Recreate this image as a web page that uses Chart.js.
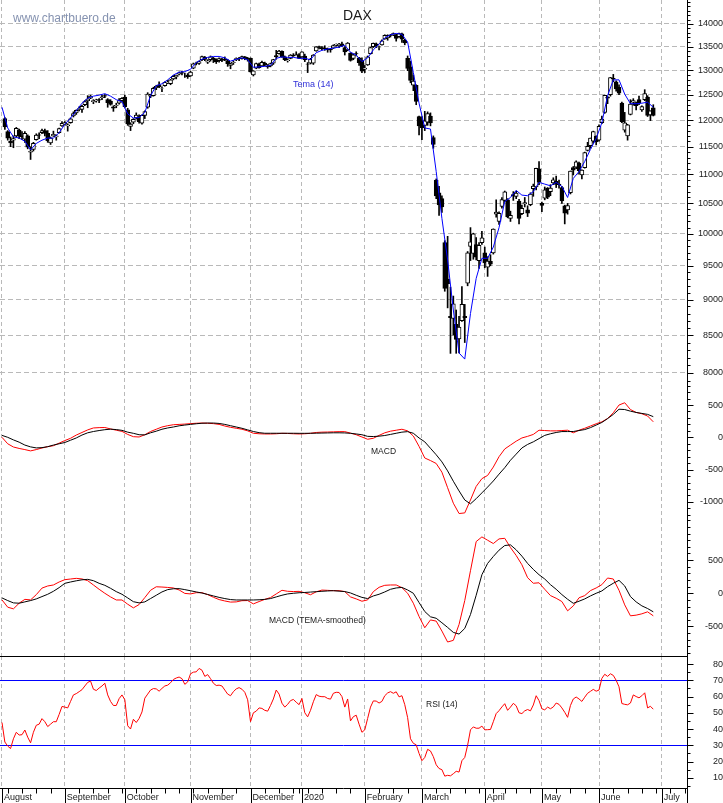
<!DOCTYPE html>
<html>
<head>
<meta charset="utf-8">
<title>DAX</title>
<script src="https://cdn.jsdelivr.net/npm/chart.js@4.4.1/dist/chart.umd.min.js"></script>
<style>
  body { margin: 0; background: #fff; }
  #wrap { position: relative; width: 723px; height: 803px; overflow: hidden; background: #fff;
          font-family: "Liberation Sans", Arial, sans-serif; }
  #wrap canvas { position: absolute; left: 0; }
  .lbl { position: absolute; white-space: nowrap; line-height: 1; }
</style>
</head>
<body>
<div id="wrap">
  <canvas id="cPrice" width="723" height="385" style="top:0"></canvas>
  <canvas id="cMacd" width="723" height="135" style="top:385px"></canvas>
  <canvas id="cTema" width="723" height="136" style="top:520px"></canvas>
  <canvas id="cRsi" width="723" height="147" style="top:656px"></canvas>
  <div class="lbl" style="left:13px;top:12px;font-size:12px;color:#8592b0">www.chartbuero.de</div>
  <div class="lbl" style="left:343px;top:8px;font-size:14px;color:#1a1a1a">DAX</div>
  <div class="lbl" style="left:293px;top:80px;font-size:9px;color:#3030d8">Tema (14)</div>
  <div class="lbl" style="left:371px;top:447px;font-size:8.5px;color:#1a1a1a">MACD</div>
  <div class="lbl" style="left:269px;top:616px;font-size:8.5px;color:#1a1a1a">MACD (TEMA-smoothed)</div>
  <div class="lbl" style="left:426px;top:700px;font-size:8.5px;color:#1a1a1a">RSI (14)</div>
</div>
<script>
// x = trading session number, 0 = 1 Aug 2019
const X_MIN = -0.7, X_MAX = 239.8;
const monthIdx = [0, 22, 43, 66, 87, 105, 127, 147, 169, 189, 209, 231];
const monthLabels = ['August', 'September', 'October', 'November', 'December', '2020',
                     'February', 'March', 'April', 'May', 'June', 'July'];
const weekIdx = [2, 7, 12, 17, 22, 27, 32, 37, 42, 47, 52, 57, 62, 67, 72, 77, 82, 87, 92, 97, 102, 104,
                 107, 112, 117, 122, 127, 132, 137, 142, 147, 152, 157, 162, 167, 172, 176, 180, 185,
                 189, 194, 199, 204, 209, 214, 219, 224, 229, 234, 239];

// DAX daily bars
const priceOpen = [
  null, 12030, 11780, 11600, 11620, 11700, 11810, 11700, 11640, 11700,
  11400, 11450, 11630, 11720, 11760, 11800, 11750, 11570, 11700, 11680,
  11760, 11890, 11920, 11890, 11950, 12080, 12140, 12210, 12210, 12300,
  12380, 12430, 12360, 12380, 12400, 12440, 12480, 12400, 12370, 12260,
  12280, 12330, 12380, 12450, 12200, 11880, 11960, 12040, 12070, 11940,
  12090, 12250, 12470, 12480, 12640, 12700, 12630, 12680, 12740, 12720,
  12820, 12860, 12920, 12950, 12910, 12900, 12880, 13040, 13150, 13140,
  13220, 13270, 13170, 13220, 13250, 13230, 13200, 13240, 13230, 13200,
  13100, 13160, 13220, 13250, 13250, 13280, 13250, 13250, 12900, 13040,
  13130, 13090, 13150, 13080, 13090, 13150, 13310, 13350, 13400, 13280,
  13200, 13250, 13320, 13340, 13330, 13280, 13300, 13130, 13150, 13150,
  13410, 13500, 13480, 13470, 13440, 13440, 13470, 13540, 13520, 13560,
  13480, 13430, 13360, 13250, 13350, 13260, 13200, 13020, 13110, 13350,
  13500, 13560, 13490, 13540, 13670, 13690, 13750, 13760, 13760, 13720,
  13780, 13640, 13250, 13070, 12690, 12690, 12070, 11990, 11900, 11960,
  12080, 11670, 10900, 10680, 10580, 9860, 9300, 8760, 8730, 8650,
  8450, 8700, 8760, 9240, 9800, 9690, 9830, 9580, 9860, 9700,
  9480, 9570, 9700, 10320, 10200, 10450, 10550, 10560, 10250, 10650,
  10620, 10540, 10330, 10490, 10390, 10480, 10750, 10780, 11100, 10500,
  10590, 10760, 10700, 10850, 10880, 10830, 10770, 10460, 10390, 10680,
  11120, 11130, 11200, 10990, 11120, 11430, 11520, 11600, 11690, 11620,
  11950, 12150, 12450, 12500, 12830, 12760, 12650, 12330, 11810, 11700,
  12110, 12350, 12340, 12400, 12200, 12400, 12450, 12100, 12240
];
const priceHigh = [
  null, 12050, 11800, 11680, 11700, 11860, 11830, 11780, 11780, 11720,
  11500, 11580, 11740, 11760, 11830, 11830, 11800, 11680, 11790, 11720,
  11850, 11970, 11970, 11930, 12040, 12160, 12200, 12260, 12290, 12380,
  12480, 12490, 12400, 12410, 12420, 12490, 12500, 12420, 12400, 12280,
  12330, 12420, 12440, 12490, 12230, 11950, 12030, 12140, 12100, 12100,
  12180, 12540, 12510, 12650, 12690, 12760, 12660, 12760, 12790, 12810,
  12890, 12900, 12960, 12980, 12940, 12930, 12980, 13150, 13170, 13190,
  13300, 13290, 13220, 13300, 13270, 13240, 13260, 13250, 13280, 13230,
  13150, 13200, 13260, 13270, 13300, 13290, 13270, 13260, 12990, 13150,
  13150, 13190, 13170, 13120, 13150, 13230, 13420, 13420, 13410, 13300,
  13240, 13330, 13350, 13390, 13350, 13390, 13340, 13160, 13250, 13330,
  13500, 13510, 13500, 13520, 13470, 13450, 13540, 13560, 13570, 13600,
  13500, 13590, 13370, 13340, 13390, 13270, 13260, 13100, 13300, 13490,
  13580, 13580, 13510, 13650, 13760, 13760, 13770, 13800, 13770, 13800,
  13800, 13660, 13300, 13190, 12900, 12700, 12080, 12070, 12170, 12160,
  12140, 11700, 10920, 10790, 10630, 9890, 9960, 9180, 9050, 8850,
  8760, 9190, 8930, 9720, 10100, 10010, 9940, 9860, 10040, 9790,
  9640, 9670, 10080, 10560, 10360, 10600, 10710, 10580, 10370, 10700,
  10710, 10570, 10470, 10600, 10460, 10680, 10830, 11110, 11230, 10520,
  10780, 10770, 10820, 10940, 10970, 10900, 10790, 10470, 10500, 11060,
  11140, 11240, 11220, 11080, 11400, 11580, 11660, 11790, 11700, 11910,
  12080, 12490, 12470, 12850, 12913, 12780, 12700, 12350, 12150, 11920,
  12400, 12420, 12350, 12470, 12280, 12600, 12480, 12180, 12300
];
const priceLow = [
  null, 11820, 11620, 11500, 11480, 11680, 11650, 11630, 11580, 11460,
  11266, 11420, 11620, 11650, 11740, 11700, 11580, 11540, 11690, 11620,
  11750, 11880, 11910, 11790, 11940, 12060, 12110, 12180, 12150, 12280,
  12240, 12420, 12320, 12350, 12340, 12400, 12440, 12250, 12290, 12170,
  12240, 12310, 12350, 12240, 11900, 11800, 11930, 12020, 11940, 11920,
  12030, 12230, 12440, 12470, 12600, 12640, 12560, 12670, 12720, 12700,
  12800, 12820, 12900, 12900, 12850, 12830, 12870, 13030, 13110, 13120,
  13200, 13200, 13140, 13190, 13160, 13140, 13170, 13180, 13200, 13080,
  13030, 13120, 13200, 13200, 13230, 13220, 13190, 12960, 12880, 13030,
  13040, 13080, 13090, 13040, 13070, 13120, 13230, 13340, 13270, 13200,
  13170, 13240, 13290, 13320, 13240, 13270, 13180, 12950, 13130, 13120,
  13400, 13450, 13430, 13420, 13380, 13380, 13460, 13510, 13480, 13500,
  13320, 13410, 13190, 13220, 13300, 13100, 12950, 12950, 13100, 13340,
  13480, 13480, 13430, 13530, 13660, 13640, 13710, 13740, 13620, 13700,
  13590, 13540, 12990, 12740, 12580, 12300, 11720, 11630, 11800, 11900,
  11890, 11470, 10580, 10300, 10350, 9120, 8880, 8255, 8500, 8256,
  8260, 8690, 8400, 9200, 9580, 9600, 9590, 9460, 9830, 9470,
  9340, 9500, 9680, 10270, 10150, 10420, 10530, 10260, 10200, 10550,
  10580, 10160, 10310, 10440, 10280, 10460, 10620, 10730, 10820, 10360,
  10560, 10580, 10630, 10820, 10770, 10760, 10500, 10160, 10320, 10660,
  10990, 11100, 11010, 10920, 11110, 11420, 11470, 11570, 11530, 11600,
  11930, 12130, 12320, 12470, 12760, 12570, 12500, 11950, 11770, 11620,
  12100, 12290, 12200, 12300, 12170, 12380, 12070, 11990, 12080
];
const priceClose = [
  null, 11872, 11658, 11567, 11650, 11845, 11694, 11679, 11750, 11492,
  11412, 11563, 11715, 11712, 11802, 11747, 11612, 11658, 11731, 11701,
  11838, 11939, 11953, 11910, 12025, 12126, 12192, 12226, 12269, 12360,
  12410, 12469, 12381, 12390, 12389, 12457, 12468, 12342, 12307, 12234,
  12288, 12381, 12428, 12263, 11925, 11925, 12013, 12097, 11970, 12094,
  12164, 12511, 12486, 12630, 12670, 12654, 12633, 12748, 12755, 12799,
  12873, 12895, 12941, 12939, 12910, 12867, 12961, 13136, 13148, 13179,
  13289, 13228, 13198, 13283, 13230, 13180, 13242, 13207, 13221, 13138,
  13137, 13164, 13246, 13236, 13287, 13245, 13236, 12965, 12989, 13140,
  13055, 13166, 13106, 13071, 13141, 13221, 13282, 13407, 13287, 13222,
  13212, 13319, 13300, 13337, 13249, 13386, 13219, 13127, 13227, 13320,
  13495, 13483, 13452, 13456, 13432, 13429, 13526, 13549, 13556, 13515,
  13389, 13577, 13205, 13324, 13345, 13158, 12982, 13046, 13282, 13479,
  13575, 13514, 13494, 13627, 13750, 13745, 13745, 13784, 13681, 13789,
  13665, 13579, 13035, 12790, 12775, 12367, 11890, 11857, 11986, 12128,
  11945, 11542, 10625, 10475, 10439, 9162, 9232, 8742, 8939, 8442,
  8610, 8929, 8742, 9700, 9874, 10001, 9633, 9816, 9936, 9544,
  9571, 9525, 10075, 10356, 10333, 10565, 10697, 10280, 10301, 10626,
  10676, 10250, 10415, 10514, 10336, 10659, 10796, 11108, 10862, 10467,
  10730, 10607, 10760, 10905, 10825, 10820, 10542, 10337, 10465, 11058,
  11075, 11223, 11066, 11074, 11391, 11504, 11657, 11781, 11587, 11880,
  12021, 12487, 12431, 12848, 12820, 12614, 12530, 11970, 11949, 11911,
  12315, 12382, 12281, 12331, 12262, 12523, 12093, 12178, 12089
];

// indicator lines, read every second session (0, 2, 4 ... 228)
const temaLine = [
  12250, 11850, 11680, 11660, 11600, 11440, 11560, 11620, 11660, 11660,
  11760, 11920, 12040, 12180, 12330, 12430, 12470, 12490, 12520, 12470,
  12400, 12360, 12120, 12040, 12050, 12150, 12480, 12680, 12720, 12800,
  12900, 12960, 12970, 13020, 13160, 13230, 13270, 13290, 13290, 13260,
  13190, 13230, 13260, 13220, 13060, 13070, 13080, 13100, 13250, 13280,
  13270, 13270, 13250, 13250, 13220, 13370, 13420, 13450, 13470, 13490,
  13530, 13380, 13320, 13180, 13260, 13430, 13560, 13690, 13760, 13790,
  13770, 13600, 12950, 12330, 11850, 11830, 11050, 10250, 9590, 8850,
  8260, 8180, 8800, 9310, 9615, 9615, 9790, 10100, 10530, 10600,
  10720, 10640, 10630, 10700, 10860, 10830, 10800, 10860, 10790, 10600,
  10930, 11050, 11230, 11450, 11650, 11950, 12480, 12800, 12800, 12510,
  12320, 12320, 12330, 12350, 12250
];
const macdLine = [
  0, -100, -150, -172, -190, -210, -190, -165, -145, -130,
  -90, -50, -15, 35, 75, 115, 145, 150, 152, 130,
  110, 92, 45, 10, 5, 40, 90, 125, 160, 180,
  195, 200, 205, 212, 218, 221, 218, 212, 200, 175,
  155, 140, 125, 100, 63, 55, 52, 52, 55, 62,
  60, 55, 52, 55, 62, 75, 80, 82, 85, 88,
  88, 65, 40, 5, -30, -15, 30, 70, 95, 110,
  125, 100, 20, -140, -320, -360, -405, -540, -780, -1020,
  -1180, -1170, -970, -760, -640, -590, -460, -300, -180, -120,
  -60, -10, 15, 45, 110, 105, 100, 100, 105, 110,
  70, 110, 140, 175, 210, 240, 290, 380, 500, 535,
  430, 385, 365, 330, 240
];
const macdSignal = [
  30, 0, -40, -75, -120, -148, -164, -160, -145, -120,
  -100, -80, -45, -10, 35, 70, 90, 105, 118, 126,
  120, 108, 80, 62, 40, 38, 70, 95, 125, 145,
  160, 178, 190, 200, 210, 218, 221, 221, 215, 200,
  180, 160, 140, 115, 90, 72, 63, 63, 63, 63,
  63, 63, 62, 62, 63, 64, 66, 68, 70, 70,
  68, 62, 52, 40, 15, 12, 18, 28, 45, 63,
  80, 88, 63, -10, -70, -170, -270, -380, -520, -680,
  -830, -970, -1030, -950, -860, -770, -676, -570, -470, -355,
  -260, -165, -110, -70, -20, 30, 55, 75, 89, 89,
  90, 105, 120, 150, 190, 230, 290, 355, 435, 430,
  405, 385, 370, 355, 320
];
const macdTemaLine = [
  -100, -210, -235, -150, -92, -100, -21, 78, 110, 125,
  170, 205, 215, 225, 216, 190, 125, 60, 0, -55,
  -101, -101, -165, -220, -170, -65, 45, 98, 94, 88,
  80, 50, -2, -10, 9, 9, -20, -60, -95, -116,
  -133, -130, -112, -110, -160, -125, -92, -65, -10, 45,
  30, 26, 29, 8, -22, 22, 48, 44, 39, 39,
  25, -55, -85, -120, -100, 25, 90, 120, 125, 125,
  85, 0, -150, -350, -520, -402, -420, -570, -735, -710,
  -470, -110, 340, 780, 850, 800, 750, 820, 829, 690,
  570, 430, 235, 151, 158, 60, -35, -75, -125, -265,
  -190, -68, -35, 40, 80, 130, 230, 215, 45, -175,
  -340, -330, -310, -280, -340
];
const macdTemaSignal = [
  -70, -110, -145, -150, -130, -110, -85, -50, -15, 30,
  85, 150, 170, 188, 203, 210, 190, 150, 120, 75,
  25, -15, -70, -127, -145, -130, -80, -30, 20, 55,
  68, 70, 55, 38, 20, 4, -18, -40, -62, -80,
  -95, -101, -101, -101, -101, -98, -92, -80, -55, -30,
  -10, 0, 8, 12, 18, 24, 30, 35, 39, 32,
  26, 5, -30, -62, -80, -40, -15, 20, 60, 80,
  88, 50, 0, -140, -275, -355, -377, -445, -515, -590,
  -615, -530, -320, -30, 280, 450, 555, 650, 720, 730,
  655, 560, 450, 360, 280, 215, 130, 60, -20, -90,
  -151, -120, -85, -40, 0, 35, 100, 151, 195, 110,
  -50, -130, -190, -230, -280
];
// RSI (14), every session
const rsiLine = [
  44, 32, 29.5, 28, 34, 38, 36.3, 36.5, 39.4, 35,
  31.5, 38, 42.3, 43, 46.4, 44.5, 41.5, 43, 44.5, 44.5,
  49, 53.9, 53.5, 53, 57, 61, 61.8, 63, 64.2, 66.5,
  68.7, 69.5, 64.5, 63.7, 65.2, 66.5, 68.2, 61, 57, 54.5,
  54.5, 58.7, 61, 58, 42, 40, 46, 44, 46.5, 50.5,
  59, 61.5, 64, 64.9, 64.7, 63.3, 65, 66.5, 67, 68.5,
  70.5, 71.4, 72, 71, 67.5, 69, 74, 75, 75.2, 77.3,
  76.2, 72.4, 73.5, 71, 68.2, 66.8, 67, 66.5, 64, 61.5,
  60.5, 63, 64.7, 65.5, 64.5, 62.6, 58, 44.5, 50, 51,
  53, 52.7, 51.5, 51, 54.5, 58.5, 64, 61.5, 55.9, 53.5,
  55.2, 57.5, 58.2, 56.5, 55, 58.8, 50, 47.5, 51.5, 56.8,
  61.2, 60.2, 59.9, 59.9, 58.8, 58.4, 62, 62.6, 62.5, 60,
  53.5, 58.5, 45, 47.6, 48.5, 43, 38, 39.5, 46.5, 53.5,
  57.3, 57.2, 56, 57, 60.5, 62.2, 63, 62, 62.9, 59.8,
  60.5, 55, 47, 34, 31.2, 30.3, 25, 20.5, 22.5, 27.5,
  26.5, 23, 18, 15.7, 15, 11, 11.5, 11.2, 12.5, 14,
  13.5, 20.5, 22.5, 30, 39.5, 41.3, 40.5, 40.5, 41.8, 39.5,
  39.6, 39.7, 44.5, 49.5, 51.3, 53.6, 55.6, 51.5, 53.5, 55.8,
  54.3, 50, 49.5, 51.2, 52, 51.2, 54.8, 60.5, 57.5, 52.5,
  51.8, 53.5, 52.5, 53.6, 56, 55.2, 53, 50.3, 47.2, 54.5,
  58.5, 59.7, 58.5, 57, 59.6, 62, 63.2, 64.4, 63.3, 64,
  71.2, 73.7, 72.4, 74, 73, 70, 66, 55.7, 55.2, 54.9,
  56, 61, 60, 59.2, 60.5, 62.3, 53, 54, 52.2
];

// axis labels
const priceLabels = [8000, 8500, 9000, 9500, 10000, 10500, 11000, 11500, 12000, 12500, 13000, 13500, 14000];
const macdLabels = [-1000, -500, 0, 500];
const macdTemaLabels = [-500, 0, 500];
const rsiLabels = [10, 20, 30, 40, 50, 60, 70, 80];
const rsiBands = [30, 70];

const FONT = { family: '"Liberation Sans", Arial, sans-serif', size: 9 };
const GRID_GREY = '#b9b9b9';
const TEXT = '#1a1a1a';

function everyOther(vals) {
  return vals.map((v, i) => ({ x: i * 2, y: v }));
}

function xAxis(withLabels) {
  return {
    type: 'linear', min: X_MIN, max: X_MAX, offset: false,
    afterBuildTicks: s => { s.ticks = monthIdx.map(v => ({ value: v })); },
    afterFit: s => { s.height = withLabels ? 15 : 0; s.paddingLeft = 0; s.paddingRight = 0; },
    grid: { color: GRID_GREY, lineWidth: 1, drawTicks: false, offset: false, borderDash: [4, 3] },
    border: { display: false, dash: [4, 3] },
    ticks: {
      display: withLabels, autoSkip: false, maxRotation: 0, align: 'start', labelOffset: 2, padding: 4,
      color: TEXT, font: FONT,
      callback: v => monthLabels[monthIdx.indexOf(v)] || ''
    }
  };
}

function yAxis(cfg) {
  return {
    type: cfg.type || 'linear', position: 'right', min: cfg.min, max: cfg.max,
    afterBuildTicks: s => {
      const t = [];
      for (let v = cfg.from; v <= cfg.to; v += cfg.step) t.push({ value: v });
      s.ticks = t;
    },
    afterFit: s => { s.width = 36; s.paddingTop = 0; s.paddingBottom = 0; },
    grid: {
      drawTicks: false, lineWidth: 1, borderDash: cfg.dash || [],
      color: c => (c.tick && cfg.lines.includes(c.tick.value)) ? cfg.lineColor : 'rgba(0,0,0,0)'
    },
    border: { display: false, dash: cfg.dash || [] },
    ticks: {
      autoSkip: false, crossAlign: 'far', padding: cfg.pad, color: TEXT, font: FONT,
      callback: v => cfg.labels.includes(v) ? String(v) : ''
    }
  };
}

// right axis line with long ticks at labels and short ones between
function axisFrame(labels) {
  return {
    id: 'axisFrame',
    afterDraw(chart) {
      const s = chart.scales.y, a = chart.chartArea, ctx = chart.ctx;
      const ax = Math.round(s.left) + 0.5;
      ctx.save();
      ctx.strokeStyle = '#000'; ctx.lineWidth = 1;
      ctx.beginPath();
      ctx.moveTo(ax, a.top); ctx.lineTo(ax, a.bottom);
      s.ticks.forEach(t => {
        const y = Math.round(s.getPixelForValue(t.value)) + 0.5;
        ctx.moveTo(ax - 0.5, y); ctx.lineTo(ax + (labels.includes(t.value) ? 6 : 3), y);
      });
      ctx.stroke();
      ctx.restore();
    }
  };
}

// frame of the bottom panel: top rule, time axis with week / month ticks
const bottomFrame = {
  id: 'bottomFrame',
  afterDraw(chart) {
    const x = chart.scales.x, a = chart.chartArea, ctx = chart.ctx;
    const bottom = Math.round(a.bottom) + 0.5;
    ctx.save();
    ctx.strokeStyle = '#000'; ctx.lineWidth = 1;
    ctx.beginPath();
    ctx.moveTo(0, 0.5); ctx.lineTo(a.right, 0.5);
    ctx.moveTo(0, bottom); ctx.lineTo(a.right, bottom);
    weekIdx.forEach(w => {
      const px = Math.round(x.getPixelForValue(w)) + 0.5;
      if (px < a.right) { ctx.moveTo(px, bottom); ctx.lineTo(px, bottom + 5); }
    });
    monthIdx.forEach(m => {
      const px = Math.round(x.getPixelForValue(m)) + 0.5;
      ctx.moveTo(px, bottom); ctx.lineTo(px, chart.height);
    });
    const ax = Math.round(a.right) + 0.5;
    ctx.moveTo(ax, a.bottom); ctx.lineTo(ax, chart.height);
    ctx.stroke();
    ctx.restore();
  }
};

function baseOptions(scales) {
  return {
    responsive: false, animation: false, devicePixelRatio: 1, events: [],
    layout: { padding: 0 },
    plugins: { legend: { display: false }, tooltip: { enabled: false } },
    scales: scales
  };
}

function lineSet(data, color) {
  return { type: 'line', data: data, borderColor: color, borderWidth: 1, pointRadius: 0, tension: 0, fill: false };
}

// price panel: candles as floating bars + Tema
const sessions = priceClose.map((c, i) => i).filter(i => priceClose[i] !== null);
const wicks = sessions.map(i => ({ x: i, y: [priceLow[i], priceHigh[i]] }));
const bodies = sessions.map(i => ({ x: i, y: [priceOpen[i], priceClose[i]] }));
const bodyFill = sessions.map(i => priceClose[i] >= priceOpen[i] ? '#ffffff' : '#000000');

new Chart(document.getElementById('cPrice'), {
  type: 'bar',
  data: {
    datasets: [
      lineSet(everyOther(temaLine), '#0000ff'),
      { data: bodies, backgroundColor: bodyFill, borderColor: '#000', borderWidth: 1,
        borderSkipped: false, barThickness: 4, grouped: false },
      { data: wicks, backgroundColor: '#000', borderWidth: 0, barThickness: 1, grouped: false }
    ]
  },
  options: baseOptions({
    x: xAxis(false),
    y: yAxis({ type: 'logarithmic', min: 7847, max: 14549, from: 7900, to: 14500, step: 100,
               labels: priceLabels, lines: priceLabels, lineColor: GRID_GREY, dash: [5, 3], pad: 9 })
  }),
  plugins: [axisFrame(priceLabels)]
});

new Chart(document.getElementById('cMacd'), {
  type: 'line',
  data: { datasets: [lineSet(everyOther(macdSignal), '#000000'), lineSet(everyOther(macdLine), '#ff0000')] },
  options: baseOptions({
    x: xAxis(false),
    y: yAxis({ min: -1280, max: 810, from: -1200, to: 800, step: 100,
               labels: macdLabels, lines: [], lineColor: 'rgba(0,0,0,0)', pad: 11 })
  }),
  plugins: [axisFrame(macdLabels)]
});

new Chart(document.getElementById('cTema'), {
  type: 'line',
  data: { datasets: [lineSet(everyOther(macdTemaSignal), '#000000'), lineSet(everyOther(macdTemaLine), '#ff0000')] },
  options: baseOptions({
    x: xAxis(false),
    y: yAxis({ min: -946, max: 1105, from: -900, to: 1100, step: 100,
               labels: macdTemaLabels, lines: [], lineColor: 'rgba(0,0,0,0)', pad: 16 })
  }),
  plugins: [axisFrame(macdTemaLabels)]
});

new Chart(document.getElementById('cRsi'), {
  type: 'line',
  data: { datasets: [lineSet(rsiLine.map((v, i) => ({ x: i, y: v })), '#ff0000')] },
  options: baseOptions({
    x: xAxis(true),
    y: yAxis({ min: 3.7, max: 84.95, from: 5, to: 80, step: 5,
               labels: rsiLabels, lines: rsiBands, lineColor: '#0000ff', pad: 24 })
  }),
  plugins: [axisFrame(rsiLabels), bottomFrame]
});
</script>
</body>
</html>
